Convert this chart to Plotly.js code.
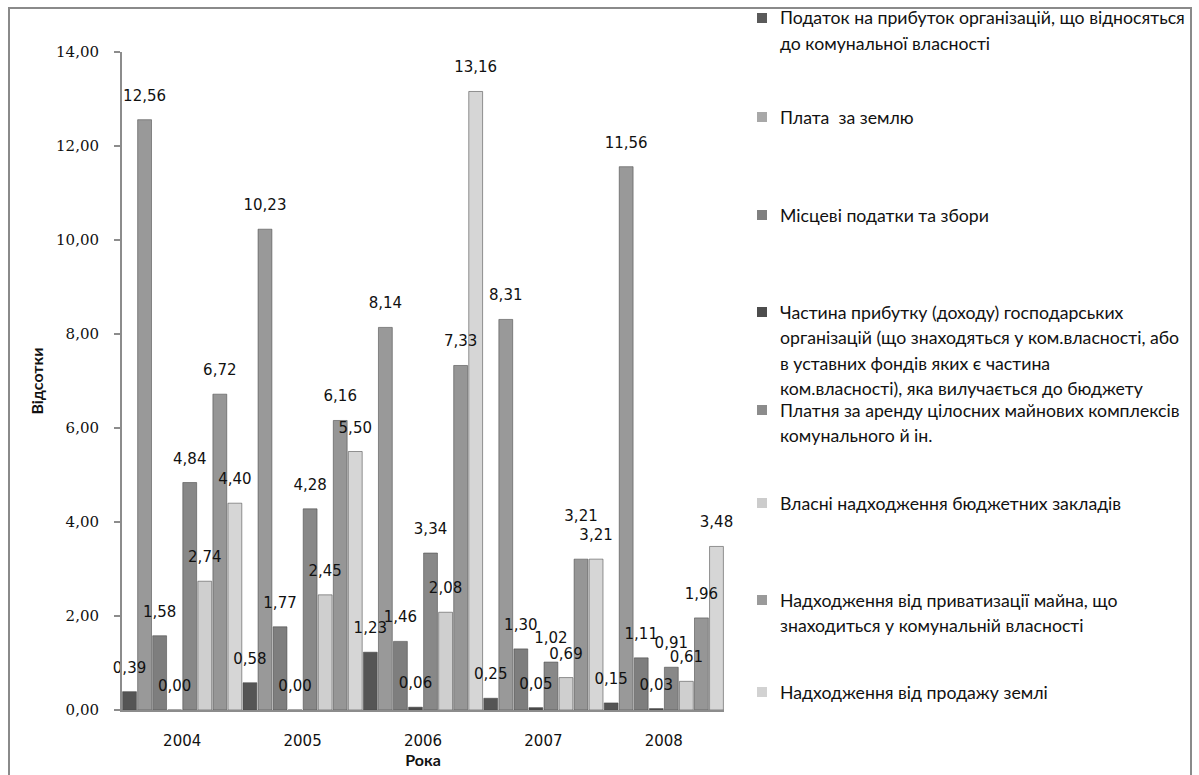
<!DOCTYPE html>
<html>
<head>
<meta charset="utf-8">
<script src="https://cdn.plot.ly/plotly-3.0.1.min.js"></script>
<style>
html,body{margin:0;padding:0;background:#fff;}
#chart{width:1199px;height:775px;}
</style>
</head>
<body>
<div id="chart"></div>
<script>
// ---- data ----
const years = ['2004', '2005', '2006', '2007', '2008'];

const seriesNames = [
  'Податок на прибуток організацій, що відносяться\nдо комунальної власності',
  'Плата  за землю',
  'Місцеві податки та збори',
  'Частина прибутку (доходу) господарських\nорганізацій (що знаходяться у ком.власності, або\nв уставних фондів яких є частина\nком.власності), яка вилучається до бюджету',
  'Платня за аренду цілосних майнових комплексів\nкомунального й ін.',
  'Власні надходження бюджетних закладів',
  'Надходження від приватизації майна, що\nзнаходиться у комунальній власності',
  'Надходження від продажу землі'
];

const podatokPrybutok   = [0.39, 0.58, 1.23, 0.25, 0.15];
const plataZemlia       = [12.56, 10.23, 8.14, 8.31, 11.56];
const mistseviPodatky   = [1.58, 1.77, 1.46, 1.30, 1.11];
const chastynaPrybutku  = [0.00, 0.00, 0.06, 0.05, 0.03];
const platniaArenda     = [4.84, 4.28, 3.34, 1.02, 0.91];
const vlasniNadkhodzh   = [2.74, 2.45, 2.08, 0.69, 0.61];
const pryvatyzatsiia    = [6.72, 6.16, 7.33, 3.21, 1.96];
const prodazhZemli      = [4.40, 5.50, 13.16, 3.21, 3.48];

const seriesValues = [podatokPrybutok, plataZemlia, mistseviPodatky, chastynaPrybutku,
                      platniaArenda, vlasniNadkhodzh, pryvatyzatsiia, prodazhZemli];

const barColors    = ['#555555', '#999999', '#7e7e7e', '#4a4a4a', '#888888', '#cfcfcf', '#969696', '#d6d6d6'];
const legendColors = ['#5a5a5a', '#a8a8a8', '#808080', '#4d4d4d', '#8c8c8c', '#cccccc', '#9a9a9a', '#d2d2d2'];

// ---- geometry helpers (plot area in px) ----
const W = 1199, H = 775;
const L = 122, R = 724, T = 52, B = 710;
const px2x = p => (p - L) / (R - L);
const py2y = p => (B - p) / (B - T);
const yMax = 14;
const labelLiftPx = 12;                       // extra lift of the value labels
const lift = labelLiftPx * yMax / (B - T);    // same lift in data units

// simple label-collision rule: if the next series in the same year has
// (almost) the same value, lift this label by one text line
const labelExtra = seriesValues.map((vals, i) => vals.map((v, k) => {
  const next = seriesValues[i + 1];
  return (next && Math.abs(next[k] - v) < 0.1 && v > 0.5) ? '<br>\u00a0' : '';
}));

// bars (drawn first)
const barTraces = seriesValues.map((vals, i) => ({
  type: 'bar',
  x: years,
  y: vals,
  name: seriesNames[i].replace(/\n/g, ' '),
  marker: {color: barColors[i], line: {color: 'rgba(70,70,70,0.55)', width: 1}},
  hoverinfo: 'x+y+name'
}));

// value labels on an overlaying axis so they sit above all bars
const labelTraces = seriesValues.map((vals, i) => ({
  type: 'bar',
  x: years,
  y: vals,
  customdata: labelExtra[i],
  xaxis: 'x2', yaxis: 'y2',
  name: seriesNames[i].replace(/\n/g, ' '),
  marker: {color: 'rgba(0,0,0,0)', line: {width: 0}},
  texttemplate: '%{y:.2f}%{customdata}',
  textposition: 'outside',
  constraintext: 'none',
  cliponaxis: false,
  textfont: {family: 'DejaVu Sans', size: 15, color: '#111'},
  hoverinfo: 'skip'
}));

// ---- custom legend (Excel-like, equal slots) ----
const legendFirstLine = [18, 117, 215, 312, 410, 503, 600, 692];
const lineStep = 25.5;
const annotations = [];
const shapes = [];
seriesNames.forEach((nm, i) => {
  const lines = nm.split('\n');
  lines.forEach((ln, j) => {
    annotations.push({
      xref: 'paper', yref: 'paper',
      x: px2x(778), y: py2y(legendFirstLine[i] + j * lineStep),
      xanchor: 'left', yanchor: 'middle',
      text: ln, showarrow: false, align: 'left',
      font: {family: 'Lato', size: 17.7, color: '#111'}
    });
  });
  const cy = legendFirstLine[i];
  shapes.push({
    type: 'rect', xref: 'paper', yref: 'paper',
    x0: px2x(757), x1: px2x(767), y0: py2y(cy + 5), y1: py2y(cy - 5),
    fillcolor: legendColors[i], line: {width: 0}
  });
});

// outer chart border
shapes.push({
  type: 'rect', xref: 'paper', yref: 'paper',
  x0: px2x(9), x1: px2x(1191), y0: py2y(800), y1: py2y(8),
  line: {color: '#8a8a8a', width: 2}, fillcolor: 'rgba(0,0,0,0)', layer: 'below'
});

const layout = {
  width: W, height: H,
  margin: {l: L, r: W - R, t: T, b: H - B, pad: 0},
  paper_bgcolor: '#ffffff',
  plot_bgcolor: '#ffffff',
  separators: ', ',
  barmode: 'group',
  bargap: 0,
  bargroupgap: 0.08,
  showlegend: false,
  xaxis: {
    type: 'category',
    showline: true, linecolor: '#8c8c8c', linewidth: 2,
    ticks: 'outside', ticklen: 16, tickcolor: 'rgba(0,0,0,0)',
    tickfont: {family: 'DejaVu Sans', size: 15, color: '#111'},
    showgrid: false, zeroline: false,
    title: {text: '<b>Рока</b>', font: {family: 'Lato', size: 16, color: '#111'}, standoff: 0}
  },
  yaxis: {
    range: [0, yMax], dtick: 2, tickformat: '.2f',
    showline: true, linecolor: '#8c8c8c', linewidth: 2,
    ticks: 'outside', ticklen: 6, tickcolor: '#8c8c8c', tickwidth: 2,
    ticklabelstandoff: 12,
    tickfont: {family: 'DejaVu Serif', size: 15, color: '#111'},
    showgrid: false, zeroline: false,
    title: {text: '<b>Відсотки</b>', font: {family: 'Lato', size: 16, color: '#111'}, standoff: 8}
  },
  xaxis2: {
    type: 'category', overlaying: 'x', matches: 'x',
    visible: false, showgrid: false, zeroline: false
  },
  yaxis2: {
    overlaying: 'y', range: [-lift, yMax - lift],
    visible: false, showgrid: false, zeroline: false
  },
  annotations: annotations,
  shapes: shapes
};

Plotly.newPlot('chart', barTraces.concat(labelTraces), layout, {displayModeBar: false, staticPlot: true});
</script>
</body>
</html>
